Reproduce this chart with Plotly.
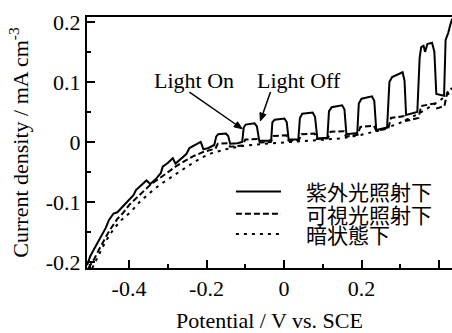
import math
import plotly.graph_objects as go

# ---- data ----
uv_x = [-0.508, -0.500, -0.490, -0.475, -0.460, -0.452, -0.440, -0.430, -0.420, -0.400,
        -0.388, -0.382, -0.372, -0.355, -0.345, -0.330, -0.318, -0.313, -0.300, -0.287,
        -0.280, -0.265, -0.252, -0.244, -0.230, -0.215, -0.208, -0.195, -0.180, -0.175,
        -0.170, -0.150, -0.144, -0.139, -0.120, -0.108, -0.104, -0.099, -0.076, -0.070,
        -0.064, -0.040, -0.033, -0.030, -0.024, 0.001, 0.007, 0.012, 0.037, 0.041,
        0.047, 0.074, 0.080, 0.086, 0.112, 0.116, 0.123, 0.150, 0.156, 0.161,
        0.189, 0.193, 0.200, 0.227, 0.233, 0.238, 0.266, 0.272, 0.279, 0.306,
        0.311, 0.315, 0.344, 0.350, 0.354, 0.360, 0.364, 0.370, 0.382, 0.388,
        0.393, 0.413, 0.417, 0.424, 0.430, 0.434]
uv_y = [-0.205, -0.190, -0.178, -0.160, -0.143, -0.130, -0.119, -0.117, -0.110, -0.097,
        -0.088, -0.080, -0.074, -0.064, -0.070, -0.061, -0.052, -0.041, -0.035, -0.027,
        -0.036, -0.028, -0.020, -0.010, -0.005, 0.000, -0.012, -0.010, -0.005, 0.009,
        0.013, 0.014, 0.010, -0.003, -0.002, 0.000, 0.024, 0.029, 0.031, 0.026,
        0.002, 0.002, 0.004, 0.033, 0.037, 0.039, 0.033, 0.004, 0.004, 0.040,
        0.047, 0.049, 0.042, 0.006, 0.007, 0.051, 0.058, 0.061, 0.054, 0.013,
        0.015, 0.064, 0.072, 0.076, 0.068, 0.020, 0.024, 0.100, 0.108, 0.116,
        0.102, 0.045, 0.050, 0.140, 0.158, 0.160, 0.150, 0.163, 0.165, 0.150,
        0.080, 0.077, 0.170, 0.182, 0.197, 0.205]

vis_x = [-0.505, -0.490, -0.475, -0.464, -0.450, -0.430, -0.415, -0.400, -0.378, -0.360,
         -0.343, -0.320, -0.300, -0.280, -0.257, -0.235, -0.210, -0.190, -0.177, -0.171,
         -0.145, -0.139, -0.107, -0.100, -0.069, -0.062, -0.034, -0.027, 0.006, 0.012,
         0.038, 0.045, 0.079, 0.085, 0.113, 0.120, 0.154, 0.160, 0.190, 0.197,
         0.232, 0.238, 0.269, 0.276, 0.309, 0.315, 0.347, 0.354, 0.389, 0.395,
         0.414, 0.421, 0.434]
vis_y = [-0.210, -0.195, -0.176, -0.163, -0.147, -0.128, -0.118, -0.105, -0.091, -0.080,
         -0.070, -0.060, -0.050, -0.041, -0.032, -0.024, -0.017, -0.013, -0.011, -0.003,
         -0.002, -0.008, -0.006, 0.004, 0.005, -0.001, 0.000, 0.010, 0.011, 0.002,
         0.003, 0.013, 0.014, 0.005, 0.006, 0.017, 0.018, 0.009, 0.012, 0.025,
         0.027, 0.019, 0.022, 0.040, 0.043, 0.035, 0.040, 0.060, 0.064, 0.056,
         0.060, 0.082, 0.090]

dark_x = [-0.495, -0.480, -0.460, -0.440, -0.420, -0.395, -0.370, -0.343, -0.320, -0.292,
          -0.260, -0.231, -0.200, -0.188, -0.150, -0.100, -0.050, 0.000, 0.050, 0.100,
          0.150, 0.200, 0.250, 0.300, 0.350, 0.400, 0.434]
dark_y = [-0.210, -0.190, -0.165, -0.145, -0.130, -0.116, -0.098, -0.083, -0.071, -0.059,
          -0.045, -0.033, -0.022, -0.019, -0.012, -0.006, -0.003, -0.001, 0.001, 0.003,
          0.006, 0.012, 0.020, 0.032, 0.048, 0.068, 0.085]

series_names = ["紫外光照射下", "可視光照射下", "暗状態下"]

x_tick_vals = [-0.4, -0.2, 0, 0.2, 0.4]
x_tick_text = ["-0.4", "-0.2", "0", "0.2", "0.4"]
x_minor_vals = [-0.5, -0.3, -0.1, 0.1, 0.3]
y_tick_vals = [-0.2, -0.1, 0, 0.1, 0.2]
y_tick_text = ["-0.2", "-0.1", "0", "0.1", "0.2"]
y_minor_vals = [-0.15, -0.05, 0.05, 0.15]

# annotation labels and arrows (tail -> head, data units)
note_labels = ["Light On", "Light Off"]
note_pos = [(-0.233, 0.103), (0.038, 0.103)]
arrow_tail = [(-0.244, 0.083), (-0.035, 0.083)]
arrow_head = [(-0.108, 0.022), (-0.061, 0.035)]

SERIF = "Liberation Serif, Times New Roman, serif"
CJK = "Noto Sans CJK JP"
FS = 22
FS_CJK = 21

X_RANGE = [-0.5084, 0.4335]
Y_RANGE = [-0.2097, 0.208]
W, H = 452, 333
M = dict(l=87, r=0, t=17, b=57)
PX_PER_X = (W - M["l"] - M["r"]) / (X_RANGE[1] - X_RANGE[0])
PX_PER_Y = (H - M["t"] - M["b"]) / (Y_RANGE[1] - Y_RANGE[0])

dashes = ["solid", "6px,3px", "3px,5px"]

fig = go.Figure()
for xs, ys, nm, ds in zip([uv_x, vis_x, dark_x], [uv_y, vis_y, dark_y], series_names, dashes):
    fig.add_trace(go.Scatter(x=xs, y=ys, mode="lines", name=nm, showlegend=False,
                             hoverinfo="skip",
                             line=dict(color="black", width=2, dash=ds)))

axis_common = dict(showgrid=False, zeroline=False, showline=True, linewidth=2,
                   linecolor="black", ticks="inside", ticklen=8, tickwidth=1.5,
                   tickcolor="black", tickfont=dict(family=SERIF, size=FS, color="black"))

fig.update_layout(
    width=W, height=H,
    margin=M,
    paper_bgcolor="white", plot_bgcolor="white",
    xaxis=dict(range=X_RANGE, tickmode="array", tickvals=x_tick_vals,
               ticktext=x_tick_text, mirror=True,
               minor=dict(tickmode="array", tickvals=x_minor_vals, ticks="inside",
                          ticklen=4, tickwidth=1.5, tickcolor="black"),
               title=dict(text="Potential / V vs. SCE",
                          font=dict(family=SERIF, size=FS, color="black"), standoff=16),
               **axis_common),
    yaxis=dict(range=Y_RANGE, tickmode="array", tickvals=y_tick_vals,
               ticktext=y_tick_text, mirror=False,
               minor=dict(tickmode="array", tickvals=y_minor_vals, ticks="inside",
                          ticklen=4, tickwidth=1.5, tickcolor="black"),
               title=dict(text="Current density / mA cm<sup>-3</sup>",
                          font=dict(family=SERIF, size=FS, color="black"), standoff=11),
               **axis_common),
)

# Annotation texts
for (px_, py_), lbl in zip(note_pos, note_labels):
    fig.add_annotation(x=px_, y=py_, xref="x", yref="y", text=lbl, showarrow=False,
                       font=dict(family=SERIF, size=FS, color="black"))

# Arrows drawn as shapes: a line plus a small filled head
HEAD_LEN, HEAD_HALF = 8.0, 3.2
for (tx, ty), (hx, hy) in zip(arrow_tail, arrow_head):
    dxp = (hx - tx) * PX_PER_X
    dyp = (hy - ty) * PX_PER_Y
    L = math.hypot(dxp, dyp)
    ux, uy = dxp / L, dyp / L
    bx, by = -HEAD_LEN * ux, -HEAD_LEN * uy
    nx, ny = -uy * HEAD_HALF, ux * HEAD_HALF
    base_x, base_y = hx + bx / PX_PER_X, hy + by / PX_PER_Y
    fig.add_shape(type="line", xref="x", yref="y", x0=tx, y0=ty, x1=base_x, y1=base_y,
                  line=dict(color="black", width=1.5))
    p1 = (hx + (bx + nx) / PX_PER_X, hy + (by + ny) / PX_PER_Y)
    p2 = (hx + (bx - nx) / PX_PER_X, hy + (by - ny) / PX_PER_Y)
    path = f"M {hx} {hy} L {p1[0]} {p1[1]} L {p2[0]} {p2[1]} Z"
    fig.add_shape(type="path", xref="x", yref="y", path=path,
                  fillcolor="black", line=dict(color="black", width=1))

# Manual legend (line samples + labels)
legend_rows = [0.305, 0.216, 0.135]
for yy, nm, ds in zip(legend_rows, series_names, dashes):
    fig.add_shape(type="line", xref="paper", yref="paper", x0=0.408, x1=0.5315,
                  y0=yy, y1=yy, line=dict(color="black", width=2, dash=ds))
    fig.add_annotation(x=0.5945, y=yy, xref="paper", yref="paper", text=nm,
                       showarrow=False, xanchor="left", yanchor="middle",
                       font=dict(family=CJK, size=FS_CJK, color="black"))

fig.write_html("out.html", config={"displayModeBar": False},
               post_script="document.body.style.margin='0px';")
